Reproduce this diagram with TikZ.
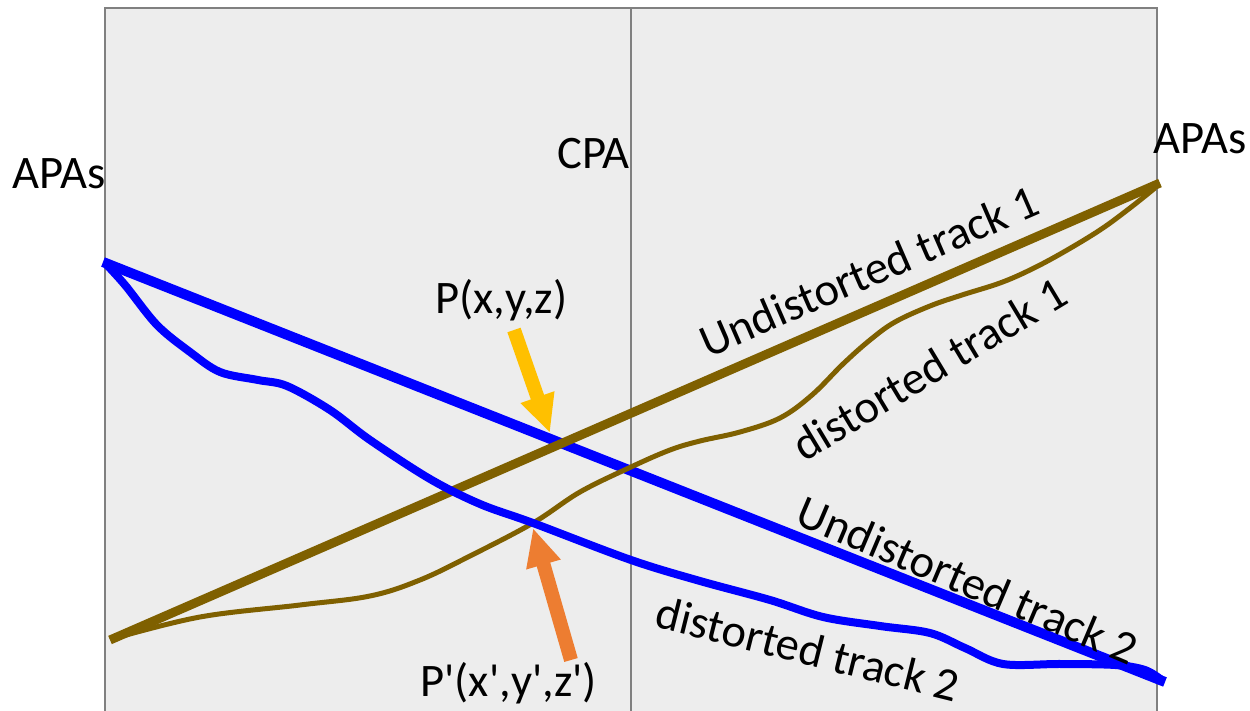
\documentclass[tikz,border=0pt]{standalone}
\usepackage{fontspec}
\newfontfamily\lblfont{Carlito}
\usetikzlibrary{arrows.meta}
\definecolor{trackblue}{HTML}{0000FF}
\definecolor{trackbrown}{HTML}{7F6000}
\definecolor{ptyellow}{HTML}{FFC000}
\definecolor{ptorange}{HTML}{ED7D31}
\definecolor{boxfill}{HTML}{EDEDED}
\definecolor{boxline}{HTML}{808080}
\tikzset{
  lbl/.style={font=\lblfont\fontsize{23.3}{28}\selectfont, inner sep=0pt, text=black},
  undistblue/.style={draw=trackblue, line width=5pt, line cap=butt},
  distblue/.style={draw=trackblue, line width=4pt, line join=round},
  undistbrown/.style={draw=trackbrown, line width=4.5pt, line cap=butt},
  distbrown/.style={draw=trackbrown, line width=2.5pt, line join=round},
  ptarrow/.style={line width=7pt, -{Triangle[width=16.5pt,length=19pt]}},
}
\begin{document}
\begin{tikzpicture}[x=0.5pt,y=-0.5pt]
\useasboundingbox (0,0) rectangle (1250,711);
% detector volume
\draw[boxline, fill=boxfill, line width=1pt] (105,8) rectangle (1157,712);
\coordinate (cpatop) at (631,8);
\coordinate (cpabot) at (631,712);
\draw[boxline, line width=1pt] (cpatop) -- (cpabot);

% track end points
\coordinate (b1) at (103,262);
\coordinate (b2) at (1165,682);
\coordinate (r1) at (110,640);
\coordinate (r2) at (1160,183);

% undistorted tracks
\draw[undistblue] (b1) -- (b2);
\draw[undistbrown] (r1) -- (r2);

% distorted track 1 (brown)
\draw[distbrown] plot[smooth, tension=0.6] coordinates {
 (112,639) (200,617) (300,605) (370,596) (420,580) (470,556)
 (533,523) (580,492) (631,467) (670,450) (700,441) (740,432) (780,418)
 (812,395) (843,364) (870,340) (895,322) (930,306) (962,295) (1000,283)
 (1030,270) (1062,253) (1100,230) (1130,208) (1155,188)};

% distorted track 2 (blue)
\draw[distblue] plot[smooth, tension=0.55] coordinates {
 (105,263) (125,285) (157,325) (190,352) (220,372) (258,380) (287,386)
 (330,410) (370,440) (430,479) (480,504) (533,523) (631,560) (700,581)
 (770,600) (823,617) (880,626) (930,633) (965,648) (1003,664) (1060,664)
 (1115,665) (1145,670) (1163,681)};

% points
\coordinate (ptail) at (514,330);
\coordinate (ptip) at (550,433);
\coordinate (pptail) at (571,660);
\coordinate (pptip) at (533,528);
\draw[ptarrow, ptyellow] (ptail) -- (ptip);
\draw[ptarrow, ptorange] (pptail) -- (pptip);

% labels
\node[lbl, anchor=base west] (apasL) at (12,189) {APAs};
\node[lbl, anchor=base west] (apasR) at (1153,154) {APAs};
\node[lbl, anchor=base west] (cpa) at (557,169) {CPA};
\node[lbl, anchor=base west] (P) at (435,314) {P(x,y,z)};
\node[lbl, anchor=base west] (Pp) at (420,697) {P'(x',y',z')};
\node[lbl, rotate=23.5] (u1) at (869,271) {Undistorted track 1};
\node[lbl, rotate=31] (d1) at (929,369) {distorted track 1};
\node[lbl, rotate=-23] (u2) at (968,580) {Undistorted track 2};
\node[lbl, rotate=-14] (d2) at (808,649) {distorted track 2};
\end{tikzpicture}
\end{document}
